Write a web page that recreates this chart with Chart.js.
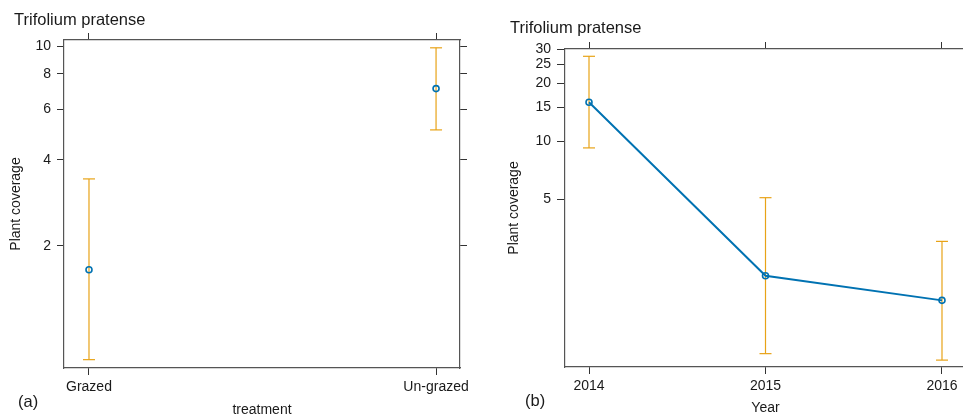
<!DOCTYPE html>
<html>
<head>
<meta charset="utf-8">
<script src="https://cdn.jsdelivr.net/npm/chart.js@4"></script>
<style>
  html, body { margin: 0; padding: 0; width: 963px; height: 419px; overflow: hidden; background: #fff; }
  .panel { position: absolute; top: 0; height: 419px; }
  .lbl { position: absolute; font-family: "Liberation Sans", Arial, sans-serif; color: #1a1a1a; white-space: nowrap; line-height: normal; }
</style>
</head>
<body>
<div class="panel" style="left:0;width:480px"><canvas id="grafica-a"></canvas></div>
<div class="panel" style="left:480px;width:500px"><canvas id="grafica-b"></canvas></div>
<div class="lbl" style="left:14px;top:10px;font-size:16.5px">Trifolium pratense</div>
<div class="lbl" style="left:510px;top:18px;font-size:16.5px">Trifolium pratense</div>
<div class="lbl" style="left:18px;top:392px;font-size:16.5px">(a)</div>
<div class="lbl" style="left:525px;top:391px;font-size:16.5px">(b)</div>
<script>
// panel (a): treatment
const treatments = ["Grazed", "Un-grazed"];
const treatmentMean = [1.65, 7.1];
const treatmentLow = [0.80, 5.09];
const treatmentHigh = [3.43, 9.86];
const treatmentTicks = [2, 4, 6, 8, 10];

// panel (b): year
const years = [2014, 2015, 2016];
const yearMean = [15.9, 2.01, 1.50];
const yearLow = [9.23, 0.795, 0.736];
const yearHigh = [27.5, 5.10, 3.03];
const yearTicks = [5, 10, 15, 20, 25, 30];

const blue = "#0072B2";
const orange = "#E8A317";

Chart.defaults.font.family = '"Liberation Sans", Arial, sans-serif';
Chart.defaults.font.size = 14;
Chart.defaults.color = "#1a1a1a";

// vertical bar with caps, one dataset per category
function errorBars(xs, lows, highs) {
  return xs.map((x, i) => ({
    data: [{ x: x, y: lows[i] }, { x: x, y: highs[i] }],
    showLine: true,
    borderColor: orange,
    borderWidth: 1.2,
    pointStyle: "line",
    pointRadius: 6,
    pointBorderWidth: 1.2,
    pointBorderColor: orange,
    order: 2,
  }));
}

// fixed ticks and fixed range (chart.js would round the range to the ticks)
function fixTicks(ticks, min, max) {
  return (s) => {
    s.ticks = ticks.map((v) => ({ value: v }));
    s.min = min;
    s.max = max;
  };
}

function axisX(pos, min, max, ticks, size, tl, labels, title, titlePad) {
  return {
    type: "linear",
    position: pos,
    min: min,
    max: max,
    bounds: "data",
    afterBuildTicks: fixTicks(ticks, min, max),
    afterFit: (s) => { s.height = size; },
    grid: { drawOnChartArea: false, tickLength: tl, color: "#333", lineWidth: 1 },
    border: { display: true, color: "#555", width: 1.2 },
    ticks: {
      display: !!labels,
      padding: 4,
      maxRotation: 0,
      autoSkip: false,
      callback: (v, i) => (labels ? labels[i] : ""),
    },
    title: title
      ? { display: true, text: title, padding: { top: 0, bottom: titlePad } }
      : { display: false },
  };
}

function axisY(pos, min, max, ticks, size, tl, showLabels, titlePad) {
  return {
    type: "logarithmic",
    position: pos,
    min: min,
    max: max,
    bounds: "data",
    afterBuildTicks: fixTicks(ticks, min, max),
    afterFit: (s) => { s.width = size; },
    grid: { drawOnChartArea: false, tickLength: tl, color: "#333", lineWidth: 1 },
    border: { display: true, color: "#555", width: 1.2 },
    ticks: {
      display: showLabels,
      padding: 6,
      autoSkip: false,
      callback: (v) => String(v),
    },
    title: showLabels
      ? { display: true, text: "Plant coverage", padding: { top: titlePad, bottom: 0 } }
      : { display: false },
  };
}

const commonOptions = {
  responsive: true,
  maintainAspectRatio: false,
  animation: false,
  layout: { padding: 0 },
  plugins: { legend: { display: false }, tooltip: { enabled: false } },
  events: [],
};

const xsA = treatments.map((t, i) => i);

new Chart(document.getElementById("grafica-a"), {
  type: "scatter",
  data: {
    datasets: [
      {
        data: xsA.map((x, i) => ({ x: x, y: treatmentMean[i] })),
        showLine: false,
        pointRadius: 3,
        pointBorderWidth: 1.6,
        pointBorderColor: blue,
        pointBackgroundColor: "rgba(0,0,0,0)",
        order: 1,
      },
      ...errorBars(xsA, treatmentLow, treatmentHigh),
    ],
  },
  options: {
    ...commonOptions,
    scales: {
      x: axisX("bottom", -0.072, 1.069, xsA, 51, 7, treatments, "treatment", 0),
      x2: axisX("top", -0.072, 1.069, xsA, 40, 7, null, null, 0),
      y: axisY("left", 0.748, 10.5, treatmentTicks, 64, 7, true, 7.6),
      y2: axisY("right", 0.748, 10.5, treatmentTicks, 20, 7, false, 0),
    },
  },
});

new Chart(document.getElementById("grafica-b"), {
  type: "scatter",
  data: {
    datasets: [
      {
        data: years.map((x, i) => ({ x: x, y: yearMean[i] })),
        showLine: true,
        borderColor: blue,
        borderWidth: 2,
        pointRadius: 3,
        pointBorderWidth: 1.6,
        pointBorderColor: blue,
        pointBackgroundColor: "rgba(0,0,0,0)",
        order: 1,
      },
      ...errorBars(years, yearLow, yearHigh),
    ],
  },
  options: {
    ...commonOptions,
    scales: {
      x: axisX("bottom", 2013.864, 2016.136, years, 52, 7, years.map(String), "Year", 2.5),
      x2: axisX("top", 2013.864, 2016.136, years, 49, 7, null, null, 0),
      y: axisY("left", 0.678, 30, yearTicks, 85, 8, true, 25.3),
      y2: axisY("right", 0.678, 30, yearTicks, 14, 7, false, 0),
    },
  },
});
</script>
</body>
</html>
